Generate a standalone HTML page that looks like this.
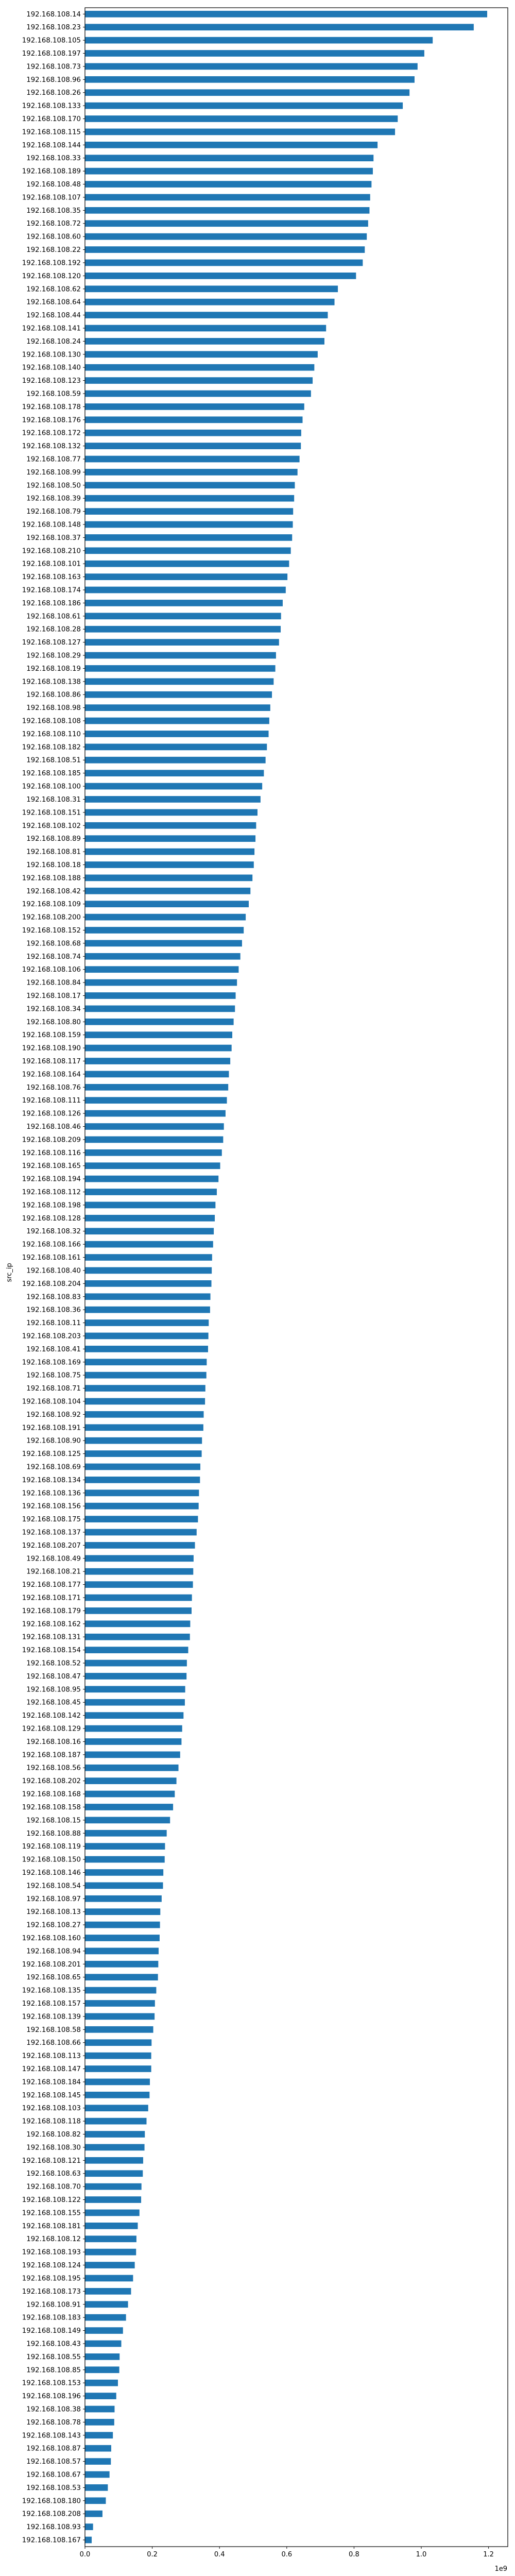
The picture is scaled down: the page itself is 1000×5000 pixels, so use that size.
<!DOCTYPE html>
<html><head><meta charset="utf-8"><style>
html,body{margin:0;padding:0;background:#fff;}
svg{display:block;font-family:"DejaVu Sans","Liberation Sans",sans-serif;}
</style></head><body>
<svg id="chart" width="1000" height="5000" viewBox="0 0 1000 5000" xmlns="http://www.w3.org/2000/svg">
<g id="bars"></g>
<g id="yticks"></g>
<g id="xticks"></g>
<rect id="frame" fill="none" stroke="#000" stroke-width="1.2"/>
<text x="0" y="0" transform="translate(22,2470) rotate(-90)" text-anchor="middle" font-size="13">src_ip</text>
<text x="985" y="4990" text-anchor="end" font-size="13">1e9</text>
</svg>
<script>
const categories = ["14","23","105","197","73","96","26","133","170","115","144","33","189","48","107","35","72","60","22","192","120","62","64","44","141","24","130","140","123","59","178","176","172","132","77","99","50","39","79","148","37","210","101","163","174","186","61","28","127","29","19","138","86","98","108","110","182","51","185","100","31","151","102","89","81","18","188","42","109","200","152","68","74","106","84","17","34","80","159","190","117","164","76","111","126","46","209","116","165","194","112","198","128","32","166","161","40","204","83","36","11","203","41","169","75","71","104","92","191","90","125","69","134","136","156","175","137","207","49","21","177","171","179","162","131","154","52","47","95","45","142","129","16","187","56","202","168","158","15","88","119","150","146","54","97","13","27","160","94","201","65","135","157","139","58","66","113","147","184","145","103","118","82","30","121","63","70","122","155","181","12","193","124","195","173","91","183","149","43","55","85","153","196","38","78","143","87","57","67","53","180","208","93","167"];
const values = [1.196,1.156,1.034,1.009,0.989,0.98,0.965,0.945,0.93,0.922,0.87,0.858,0.856,0.852,0.848,0.846,0.842,0.838,0.832,0.826,0.806,0.752,0.742,0.722,0.717,0.712,0.692,0.682,0.677,0.672,0.652,0.647,0.643,0.642,0.638,0.632,0.624,0.622,0.619,0.618,0.616,0.612,0.607,0.602,0.597,0.588,0.583,0.582,0.577,0.568,0.566,0.561,0.556,0.551,0.548,0.546,0.541,0.537,0.532,0.527,0.522,0.513,0.509,0.507,0.504,0.502,0.498,0.492,0.487,0.478,0.472,0.467,0.462,0.457,0.452,0.448,0.446,0.442,0.438,0.436,0.432,0.428,0.426,0.422,0.418,0.413,0.411,0.407,0.402,0.397,0.392,0.388,0.386,0.383,0.381,0.378,0.377,0.376,0.373,0.372,0.368,0.367,0.366,0.362,0.361,0.358,0.357,0.353,0.352,0.348,0.347,0.343,0.342,0.339,0.338,0.336,0.332,0.327,0.323,0.322,0.321,0.318,0.317,0.313,0.312,0.307,0.303,0.302,0.298,0.297,0.293,0.289,0.287,0.283,0.278,0.272,0.267,0.262,0.253,0.243,0.238,0.237,0.233,0.232,0.228,0.224,0.223,0.222,0.219,0.218,0.217,0.212,0.208,0.207,0.203,0.198,0.197,0.197,0.193,0.192,0.188,0.183,0.178,0.177,0.173,0.172,0.168,0.167,0.162,0.157,0.153,0.152,0.148,0.143,0.137,0.128,0.122,0.113,0.108,0.103,0.102,0.098,0.093,0.088,0.087,0.083,0.078,0.077,0.073,0.068,0.062,0.052,0.024,0.02];
const xTickValues = [0,0.2,0.4,0.6,0.8,1.0,1.2];
const xTickLabels = ["0.0","0.2","0.4","0.6","0.8","1.0","1.2"];

const NS = "http://www.w3.org/2000/svg";
const plotLeft = 165, plotRight = 986, plotTop = 15, plotBottom = 4943;
const pxPerUnit = 653;
const xScale = v => plotLeft + v * pxPerUnit;
const nBars = categories.length;
const firstC = 27.3, lastC = 4930;
const pitch = (lastC - firstC) / (nBars - 1);
const yScale = i => firstC + i * pitch;
const barH = pitch * 0.5;

const frame = document.getElementById('frame');
frame.setAttribute('x', plotLeft); frame.setAttribute('y', plotTop);
frame.setAttribute('width', plotRight - plotLeft); frame.setAttribute('height', plotBottom - plotTop);

const gb = document.getElementById('bars'), gy = document.getElementById('yticks'), gx = document.getElementById('xticks');
for (let i = 0; i < nBars; i++) {
  const cy = yScale(i);
  const r = document.createElementNS(NS, 'rect');
  
  
  r.setAttribute('x', plotLeft); r.setAttribute('y', cy - barH / 2);
  r.setAttribute('width', xScale(values[i]) - plotLeft); r.setAttribute('height', barH);
  r.setAttribute('fill', '#1f77b4');
  gb.appendChild(r);
  const tk = document.createElementNS(NS, 'line');
  
  
  tk.setAttribute('x1', plotLeft - 4); tk.setAttribute('x2', plotLeft); tk.setAttribute('y1', cy); tk.setAttribute('y2', cy);
  tk.setAttribute('stroke', '#000'); tk.setAttribute('stroke-width', '1');
  gy.appendChild(tk);
  const t = document.createElementNS(NS, 'text');
  
  
  t.setAttribute('x', plotLeft - 8); t.setAttribute('y', cy + 4.5);
  t.setAttribute('text-anchor', 'end'); t.setAttribute('font-size', '13.3');
  t.textContent = '192.168.108.' + categories[i];
  gy.appendChild(t);
}
for (let j = 0; j < xTickValues.length; j++) {
  const x = xScale(xTickValues[j]);
  const tk = document.createElementNS(NS, 'line');
  
  
  tk.setAttribute('x1', x); tk.setAttribute('x2', x); tk.setAttribute('y1', plotBottom); tk.setAttribute('y2', plotBottom + 4);
  tk.setAttribute('stroke', '#000');
  gx.appendChild(tk);
  const t = document.createElementNS(NS, 'text');
  
  
  t.setAttribute('x', x); t.setAttribute('y', 4962);
  t.setAttribute('text-anchor', 'middle'); t.setAttribute('font-size', '13');
  t.textContent = xTickLabels[j];
  gx.appendChild(t);
}
</script>
</body></html>
